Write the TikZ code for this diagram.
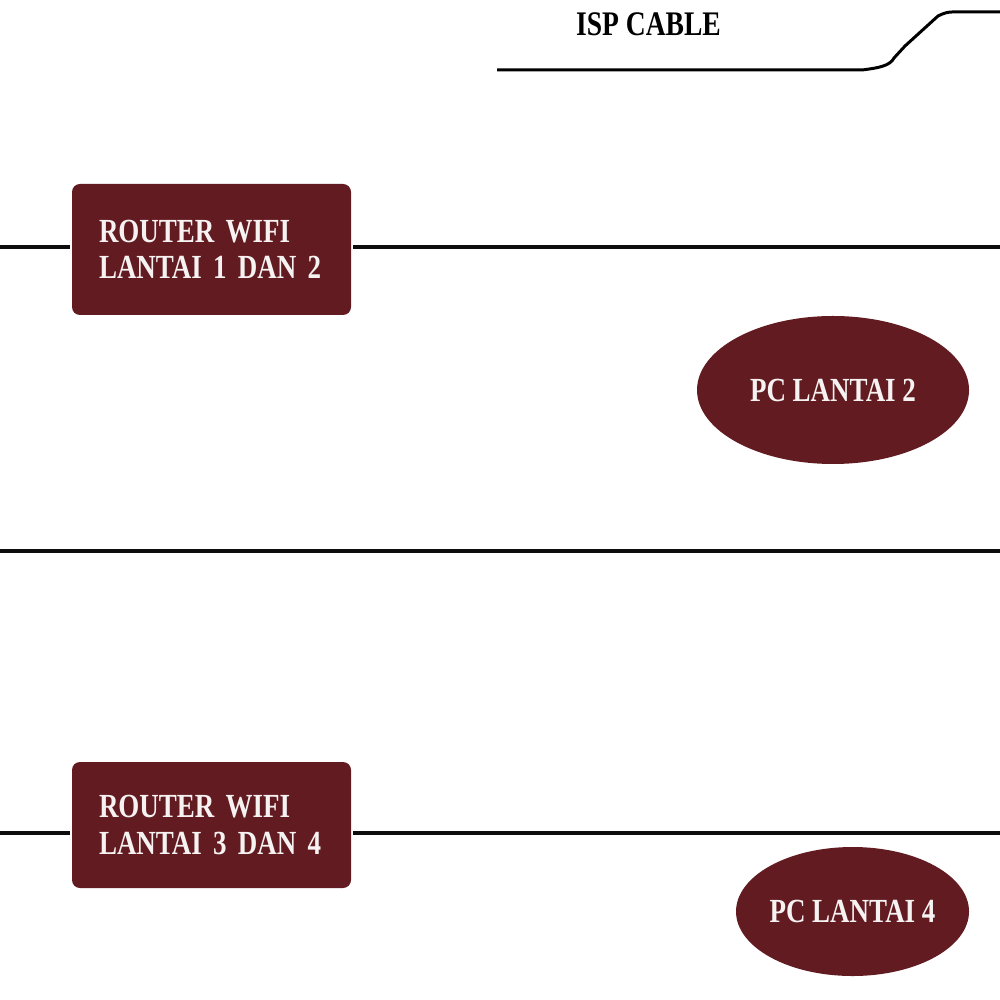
\documentclass[tikz,border=0pt]{standalone}
\usepackage{fontspec}
\newfontfamily\stencilfont[FakeStretch=0.80]{Liberation Serif}
\usetikzlibrary{shapes.geometric}
\definecolor{maroon}{RGB}{97,27,33}
\definecolor{paper}{RGB}{246,242,242}

\begin{document}
\begin{tikzpicture}[line width=1.1pt,
    routerbox/.style={draw=none,fill=maroon,rectangle,rounded corners=0.08cm,
      minimum width=2.79cm,minimum height=1.31cm,text width=2.25cm,inner xsep=0.27cm,
      align=left,text=paper,font=\stencilfont\bfseries\fontsize{9.6}{10.3}\selectfont},
    pcnode/.style={draw=none,fill=maroon,ellipse,inner sep=0pt,text=paper,
      font=\stencilfont\bfseries\fontsize{9.6}{10.3}\selectfont},
    floor/.style={black!95,line width=1.15pt}]
  \useasboundingbox (0,0) rectangle (10,-10);
  % kabel dari ISP
  \node[font=\stencilfont\bfseries\fontsize{9.8}{10.3}\selectfont] (isp) at (6.485,-0.24) {ISP CABLE};
  \draw[line width=0.85pt] (4.97,-0.70) -- (8.62,-0.70) .. controls (8.78,-0.68) and (8.90,-0.66) .. (8.94,-0.58)
    -- (9.05,-0.46) -- (9.38,-0.16) .. controls (9.44,-0.13) and (9.48,-0.12) .. (9.52,-0.12) -- (10,-0.12);
  % lantai 1 dan 2
  \node[routerbox] (router1) at (2.115,-2.495) {ROUTER WIFI\\LANTAI 1 DAN 2};
  \coordinate (r1left) at (0,-2.47);
  \coordinate (r1right) at (10,-2.47);
  \draw[floor] (r1left) -- (r1left -| router1.west);
  \draw[floor] (r1right -| router1.east) -- (r1right);
  \node[pcnode,minimum width=2.72cm,minimum height=1.48cm] (pc2) at (8.33,-3.90) {PC LANTAI 2};
  % batas lantai
  \coordinate (midleft) at (0,-5.51);
  \coordinate (midright) at (10,-5.51);
  \draw[floor] (midleft) -- (midright);
  % lantai 3 dan 4
  \node[routerbox,minimum height=1.26cm] (router2) at (2.115,-8.25) {ROUTER WIFI\\LANTAI 3 DAN 4};
  \coordinate (r2left) at (0,-8.33);
  \coordinate (r2right) at (10,-8.33);
  \draw[floor] (r2left) -- (r2left -| router2.west);
  \draw[floor] (r2right -| router2.east) -- (r2right);
  \node[pcnode,inner xsep=-0.1cm,minimum width=2.33cm,minimum height=1.29cm] (pc4) at (8.525,-9.115) {PC LANTAI 4};
\end{tikzpicture}
\end{document}
